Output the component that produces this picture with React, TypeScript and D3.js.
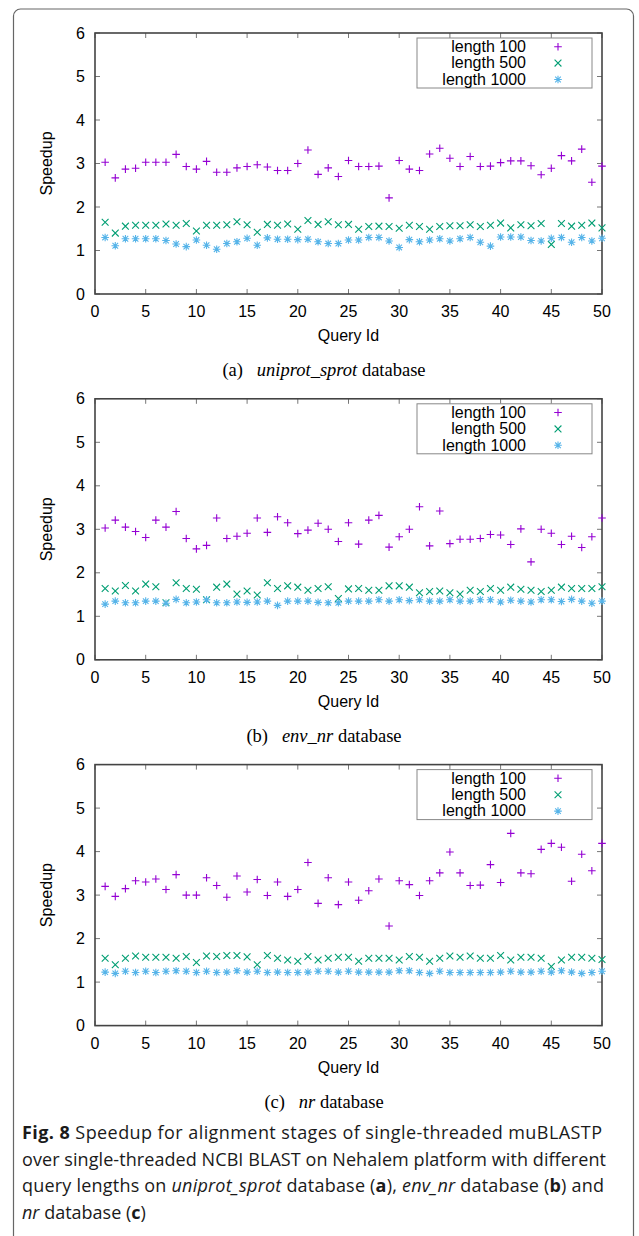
import React from 'react';
import * as d3 from 'd3';

// query ids on the x axis, tick values for both axes
const queryIds = d3.range(1, 51);
const xTicks = [0, 5, 10, 15, 20, 25, 30, 35, 40, 45, 50];
const yTicks = [0, 1, 2, 3, 4, 5, 6];

const seriesNames = ['length 100', 'length 500', 'length 1000'];
const seriesColors = ['#9400d3', '#009e73', '#56b4e9'];
const seriesMarkers = ['plus', 'cross', 'star'];

// (a) uniprot_sprot
const sprot100 = [
  3.03, 2.67, 2.87, 2.89, 3.03, 3.03, 3.03, 3.21, 2.93, 2.87,
  3.05, 2.8, 2.8, 2.9, 2.93, 2.97, 2.92, 2.84, 2.84, 3.0,
  3.31, 2.75, 2.9, 2.7, 3.07, 2.93, 2.93, 2.94, 2.21, 3.07,
  2.87, 2.84, 3.22, 3.35, 3.12, 2.93, 3.16, 2.93, 2.94, 3.02,
  3.06, 3.06, 2.95, 2.74, 2.89, 3.18, 3.06, 3.33, 2.57, 2.94,
];
const sprot500 = [
  1.65, 1.4, 1.56, 1.58, 1.58, 1.58, 1.61, 1.58, 1.62, 1.45,
  1.58, 1.58, 1.59, 1.66, 1.59, 1.42, 1.6, 1.58, 1.61, 1.49,
  1.69, 1.6, 1.66, 1.59, 1.6, 1.49, 1.55, 1.56, 1.55, 1.51,
  1.58, 1.55, 1.49, 1.55, 1.57, 1.57, 1.59, 1.55, 1.58, 1.63,
  1.52, 1.59, 1.57, 1.62, 1.14, 1.62, 1.56, 1.58, 1.63, 1.52,
];
const sprot1000 = [
  1.3, 1.11, 1.27, 1.27, 1.27, 1.27, 1.23, 1.15, 1.09, 1.24,
  1.12, 1.03, 1.16, 1.2, 1.28, 1.12, 1.29, 1.26, 1.26, 1.25,
  1.26, 1.2, 1.16, 1.16, 1.24, 1.24, 1.3, 1.3, 1.22, 1.07,
  1.25, 1.2, 1.24, 1.27, 1.22, 1.27, 1.3, 1.19, 1.1, 1.31,
  1.31, 1.31, 1.23, 1.22, 1.28, 1.3, 1.19, 1.3, 1.22, 1.28,
];

// (b) env_nr
const envnr100 = [
  3.03, 3.21, 3.05, 2.95, 2.81, 3.21, 3.05, 3.41, 2.79, 2.55,
  2.63, 3.26, 2.79, 2.84, 2.91, 3.26, 2.93, 3.29, 3.15, 2.9,
  2.98, 3.14, 3.0, 2.72, 3.15, 2.66, 3.21, 3.32, 2.59, 2.83,
  3.0, 3.52, 2.62, 3.42, 2.67, 2.77, 2.77, 2.79, 2.88, 2.87,
  2.65, 3.01, 2.25, 3.0, 2.91, 2.65, 2.84, 2.58, 2.83, 3.26,
];
const envnr500 = [
  1.64, 1.58, 1.71, 1.58, 1.74, 1.68, 1.31, 1.77, 1.64, 1.62,
  1.38, 1.67, 1.74, 1.51, 1.58, 1.49, 1.77, 1.64, 1.7, 1.67,
  1.6, 1.64, 1.68, 1.41, 1.63, 1.64, 1.6, 1.6, 1.7, 1.7,
  1.67, 1.54, 1.57, 1.58, 1.54, 1.51, 1.6, 1.57, 1.64, 1.6,
  1.67, 1.62, 1.6, 1.57, 1.6, 1.67, 1.64, 1.64, 1.64, 1.68,
];
const envnr1000 = [
  1.28, 1.35, 1.31, 1.31, 1.35, 1.35, 1.3, 1.39, 1.31, 1.33,
  1.38, 1.31, 1.31, 1.33, 1.32, 1.33, 1.35, 1.25, 1.35, 1.35,
  1.35, 1.32, 1.31, 1.31, 1.35, 1.35, 1.35, 1.38, 1.35, 1.38,
  1.36, 1.38, 1.35, 1.35, 1.38, 1.35, 1.35, 1.38, 1.38, 1.33,
  1.37, 1.35, 1.33, 1.38, 1.38, 1.34, 1.39, 1.35, 1.3, 1.35,
];

// (c) nr
const nr100 = [
  3.2, 2.97, 3.15, 3.33, 3.3, 3.37, 3.13, 3.47, 3.0, 3.0,
  3.4, 3.22, 2.95, 3.44, 3.07, 3.36, 2.99, 3.3, 2.97, 3.13,
  3.75, 2.81, 3.4, 2.78, 3.3, 2.88, 3.1, 3.37, 2.29, 3.33,
  3.24, 2.99, 3.33, 3.51, 3.99, 3.51, 3.22, 3.23, 3.7, 3.29,
  4.42, 3.51, 3.49, 4.05, 4.19, 4.1, 3.32, 3.94, 3.56, 4.19,
];
const nr500 = [
  1.55, 1.4, 1.55, 1.6, 1.57, 1.57, 1.57, 1.55, 1.59, 1.45,
  1.6, 1.59, 1.61, 1.61, 1.58, 1.4, 1.61, 1.55, 1.51, 1.48,
  1.59, 1.51, 1.55, 1.57, 1.57, 1.48, 1.55, 1.55, 1.55, 1.51,
  1.59, 1.57, 1.48, 1.55, 1.6, 1.57, 1.6, 1.55, 1.55, 1.61,
  1.51, 1.57, 1.57, 1.55, 1.36, 1.51, 1.57, 1.57, 1.55, 1.52,
];
const nr1000 = [
  1.23, 1.2, 1.25, 1.22, 1.25, 1.22, 1.25, 1.26, 1.25, 1.22,
  1.25, 1.22, 1.23, 1.26, 1.23, 1.25, 1.22, 1.23, 1.22, 1.22,
  1.23, 1.25, 1.25, 1.23, 1.25, 1.23, 1.23, 1.23, 1.23, 1.26,
  1.26, 1.22, 1.2, 1.25, 1.22, 1.22, 1.22, 1.22, 1.22, 1.23,
  1.25, 1.23, 1.23, 1.25, 1.23, 1.26, 1.23, 1.2, 1.22, 1.25,
];

const panels = [
  { tag: '(a)', db: 'uniprot_sprot', series: [sprot100, sprot500, sprot1000] },
  { tag: '(b)', db: 'env_nr', series: [envnr100, envnr500, envnr1000] },
  { tag: '(c)', db: 'nr', series: [nr100, nr500, nr1000] },
];

const W = 639;
const H = 1236;
const plotLeft = 95;
const plotRight = 602;
const plotH = 261;
const panelTop0 = 33;
const panelStep = 365.8;
const sans = '"Liberation Sans", Arial, sans-serif';
const serif = '"Liberation Serif", "Times New Roman", serif';

function markerPath(kind: string) {
  const s = 3.8;
  const d = 3.4;
  const plus = `M${-s},0H${s}M0,${-s}V${s}`;
  const cross = `M${-d},${-d}L${d},${d}M${-d},${d}L${d},${-d}`;
  if (kind === 'plus') return plus;
  if (kind === 'cross') return cross;
  const k = 2.8;
  return `M${-s},0H${s}M0,${-s}V${s}M${-k},${-k}L${k},${k}M${-k},${k}L${k},${-k}`;
}

function Panel({ top, panel }: { top: number; panel: (typeof panels)[number] }) {
  const x = d3.scaleLinear().domain([0, 50]).range([plotLeft, plotRight]);
  const y = d3.scaleLinear().domain([0, 6]).range([top + plotH, top]);
  const bottom = top + plotH;
  const legX = 417;
  const legY = top + 5;

  return (
    <g>
      {/* ticks, mirrored on all four sides */}
      {yTicks.map((t) => (
        <g key={'y' + t}>
          <line x1={plotLeft} x2={plotLeft + 5} y1={y(t)} y2={y(t)} stroke="#777" strokeWidth={1} />
          <line x1={plotRight} x2={plotRight - 5} y1={y(t)} y2={y(t)} stroke="#777" strokeWidth={1} />
          <text x={plotLeft - 10} y={y(t) + 5.5} textAnchor="end" fontSize={16} fontFamily={sans}>
            {t}
          </text>
        </g>
      ))}
      {xTicks.map((t) => (
        <g key={'x' + t}>
          <line x1={x(t)} x2={x(t)} y1={bottom} y2={bottom - 5} stroke="#777" strokeWidth={1} />
          <line x1={x(t)} x2={x(t)} y1={top} y2={top + 5} stroke="#777" strokeWidth={1} />
          <text x={x(t)} y={bottom + 23} textAnchor="middle" fontSize={16} fontFamily={sans}>
            {t}
          </text>
        </g>
      ))}
      <rect
        x={plotLeft}
        y={top}
        width={plotRight - plotLeft}
        height={plotH}
        fill="none"
        stroke="#444"
        strokeWidth={1.6}
      />

      {/* legend */}
      <rect x={legX} y={legY} width={175} height={50} fill="#fff" stroke="#888" strokeWidth={1} />
      {seriesNames.map((name, i) => (
        <g key={name}>
          <text
            x={526}
            y={legY + 14 + i * 16.4}
            textAnchor="end"
            fontSize={16}
            fontFamily={sans}
          >
            {name}
          </text>
          <path
            d={markerPath(seriesMarkers[i])}
            transform={`translate(558,${legY + 8.7 + i * 16.4})`}
            stroke={seriesColors[i]}
            strokeWidth={1.1}
            fill="none"
          />
        </g>
      ))}

      {/* points */}
      {panel.series.map((vals, si) => (
        <g key={si} stroke={seriesColors[si]} strokeWidth={1.1} fill="none">
          {vals.map((v, i) => (
            <path
              key={i}
              d={markerPath(seriesMarkers[si])}
              transform={`translate(${x(queryIds[i])},${y(v)})`}
            />
          ))}
        </g>
      ))}

      {/* axis titles */}
      <text
        transform={`translate(52,${top + plotH / 2}) rotate(-90)`}
        textAnchor="middle"
        fontSize={16}
        fontFamily={sans}
      >
        Speedup
      </text>
      <text x={(plotLeft + plotRight) / 2} y={bottom + 47} textAnchor="middle" fontSize={16} fontFamily={sans}>
        Query Id
      </text>

      {/* sub caption */}
      <text x={324} y={bottom + 82} textAnchor="middle" fontSize={18.5} fontFamily={serif}>
        {panel.tag}
        {'\u2002\u00a0'}
        <tspan fontStyle="italic">{panel.db}</tspan> database
      </text>
    </g>
  );
}

export default function App() {
  const capFont = '"Open Sans", "Noto Sans", sans-serif';
  const capX = 22;
  const capY = 1139;
  const capStep = 26.6;
  const capW = 580;
  return (
    <svg
      width={W}
      height={H}
      style={{ position: 'absolute', left: 0, top: 0, background: '#fff' }}
    >
      <rect x={13.5} y={9} width={620} height={1260} rx={7} fill="#fff" stroke="#666" strokeWidth={1.2} />
      {panels.map((p, i) => (
        <Panel key={p.tag} top={panelTop0 + i * panelStep} panel={p} />
      ))}
      <g fontFamily={capFont} fontSize={18} fill="#1a1a1a">
        <text x={capX} y={capY} textLength={capW} lengthAdjust="spacing">
          <tspan fontWeight="bold">Fig. 8</tspan> Speedup for alignment stages of single-threaded muBLASTP
        </text>
        <text x={capX} y={capY + capStep} textLength={capW + 4} lengthAdjust="spacing">
          over single-threaded NCBI BLAST on Nehalem platform with different
        </text>
        <text x={capX} y={capY + capStep * 2} textLength={capW + 2} lengthAdjust="spacing">
          query lengths on <tspan fontStyle="italic">uniprot_sprot</tspan> database (
          <tspan fontWeight="bold">a</tspan>), <tspan fontStyle="italic">env_nr</tspan> database (
          <tspan fontWeight="bold">b</tspan>) and
        </text>
        <text x={capX} y={capY + capStep * 3}>
          <tspan fontStyle="italic">nr</tspan> database (<tspan fontWeight="bold">c</tspan>)
        </text>
      </g>
    </svg>
  );
}
